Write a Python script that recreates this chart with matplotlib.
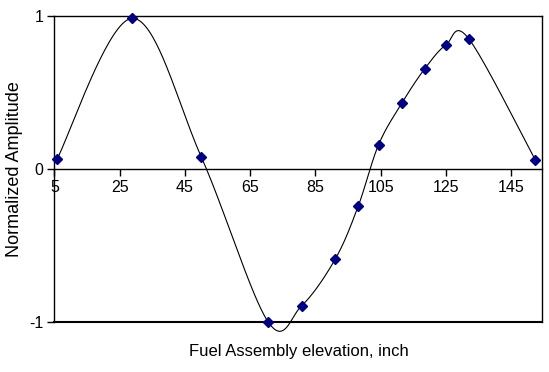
import numpy as np
import matplotlib
matplotlib.use("Agg")
import matplotlib.pyplot as plt

plt.rcParams.update({"font.family": ["Liberation Sans", "DejaVu Sans"], "font.size": 11})

# measured points along the assembly
elev = [5.8, 28.9, 50.0, 70.5, 80.8, 91.1, 98.1, 104.4, 111.6, 118.5, 125.0, 132.0, 152.4]
amp = [0.063, 0.985, 0.080, -1.0, -0.895, -0.59, -0.246, 0.159, 0.433, 0.654, 0.81, 0.852, 0.059]

x_ticks = [5, 25, 45, 65, 85, 105, 125, 145]
y_ticks = [-1, 0, 1]


def smooth(xs, ys, n=40):
    # Catmull-Rom style bezier between consecutive points
    p = np.column_stack([xs, ys])
    out = []
    for i in range(len(p) - 1):
        p0 = p[max(i - 1, 0)]
        p1 = p[i]
        p2 = p[i + 1]
        p3 = p[min(i + 2, len(p) - 1)]
        c1 = p1 + (p2 - p0) / 6
        c2 = p2 - (p3 - p1) / 6
        t = np.linspace(0, 1, n)[:, None]
        seg = ((1 - t) ** 3) * p1 + 3 * ((1 - t) ** 2) * t * c1 + 3 * (1 - t) * t ** 2 * c2 + t ** 3 * p2
        out.append(seg if i == 0 else seg[1:])
    s = np.vstack(out)
    return s[:, 0], s[:, 1]


fig = plt.figure(figsize=(5.49, 3.72), dpi=100)
ax = fig.add_axes([0.099, 0.135, 0.889, 0.822])

sx, sy = smooth(elev, amp)
ax.plot(sx, sy, color="black", lw=0.8, zorder=2, clip_on=False)
ax.plot(elev, amp, ls="none", marker="D", ms=5, color="#000080", zorder=3, clip_on=False)

ax.set_xlim(5, 154.6)
ax.set_ylim(-1, 1)

# x axis crosses at zero, frame around the plot area
ax.spines["bottom"].set_position(("data", 0))
for side in ["top", "right", "left", "bottom"]:
    ax.spines[side].set_linewidth(1.0)
    ax.spines[side].set_color("black")
ax.axhline(-1, color="black", lw=1.5, clip_on=False, zorder=1)

ax.set_xticks(x_ticks)
ax.set_yticks(y_ticks)
ax.set_yticklabels(["-1", "0", "1"])
ax.tick_params(axis="x", direction="out", length=5, width=1, pad=3, labelsize=11.5)
ax.tick_params(axis="y", direction="out", length=5, width=1, pad=3, labelsize=11.5)

fig.text(0.027, 0.546, "Normalized Amplitude", rotation=90, ha="center", va="center", fontsize=13)
fig.text(0.545, 0.056, "Fuel Assembly elevation, inch", ha="center", va="center", fontsize=12)

fig.savefig("out.png", dpi=100)
